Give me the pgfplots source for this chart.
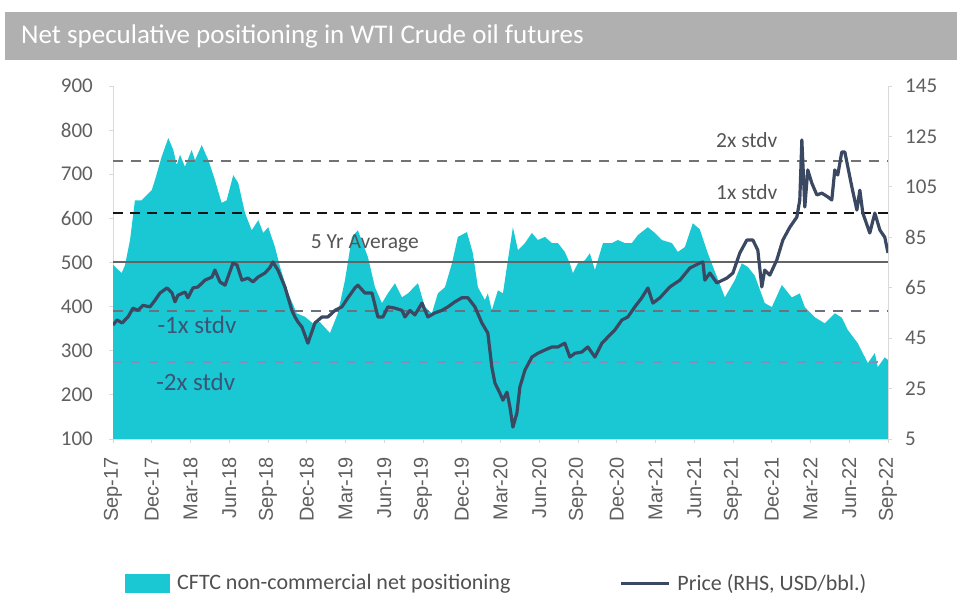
\documentclass[border=0pt]{standalone}
\usepackage{pgfplots}
\pgfplotsset{compat=1.18}
\usepackage{fontspec}
\setmainfont{Carlito}
\newfontfamily\arialf{Liberation Sans}
\definecolor{cyanfill}{RGB}{26,200,212}
\definecolor{pricecol}{RGB}{58,72,98}
\definecolor{titlegray}{RGB}{176,176,176}
\definecolor{ticktext}{RGB}{95,95,95}
\definecolor{legtext}{RGB}{80,80,80}
\definecolor{uplab}{RGB}{85,85,85}
\definecolor{lowlab}{RGB}{60,85,118}
\definecolor{sdtwo}{RGB}{115,115,115}
\definecolor{sdone}{RGB}{20,20,20}
\definecolor{avgcol}{RGB}{100,100,100}
\definecolor{sdmone}{RGB}{110,112,128}
\definecolor{sdmtwo}{RGB}{135,140,185}
\begin{document}
\begin{tikzpicture}
\path[use as bounding box] (0,0) rectangle (957pt,596pt);
\fill[titlegray] (5pt,536pt) rectangle (957pt,584pt);
\node[anchor=west, text=white, font=\fontsize{27}{27}\selectfont, inner sep=0pt] at (21pt,560pt) {Net speculative positioning in WTI Crude oil futures};
\begin{axis}[
  at={(113pt,157pt)}, anchor=south west,
  width=775pt, height=353pt, scale only axis,
  xmin=0, xmax=60, ymin=100, ymax=900,
  axis y line*=left, axis x line*=bottom,
  axis line style={draw=gray!30, line width=0.8pt},
  tick style={draw=gray!30, line width=0.8pt},
  tick align=outside, major tick length=4pt,
  ytick={100,200,...,900},
  xtick={0,3,...,60},
  xticklabels={Sep-17,Dec-17,Mar-18,Jun-18,Sep-18,Dec-18,Mar-19,Jun-19,Sep-19,Dec-19,Mar-20,Jun-20,Sep-20,Dec-20,Mar-21,Jun-21,Sep-21,Dec-21,Mar-22,Jun-22,Sep-22},
  /pgf/number format/assume math mode=true,
  yticklabel style={font=\fontsize{21}{21}\selectfont, text=ticktext, inner sep=0pt},
  yticklabel shift=16pt,
  xticklabel style={font=\arialf\fontsize{20}{20}\selectfont, text=ticktext, rotate=90, anchor=east, inner sep=0pt},
  xticklabel shift=14pt,
  legend style={draw=none, fill=none, inner sep=0pt, at={(axis description cs:0.0155,-0.408)}, anchor=west,
    font=\fontsize{22}{22}\selectfont, text=legtext, nodes={inner sep=0pt},
    /tikz/every odd column/.append style={column sep=7pt},
    /tikz/every even column/.append style={column sep=109pt}},
  legend columns=2, legend cell align=left,
  clip=true,
]
\addplot[fill=cyanfill, draw=none, legend image code/.code={\fill[cyanfill] (0pt,-9.5pt) rectangle (45pt,9.5pt);}] coordinates {
(0,495) (0.67,476) (0.93,494) (1.32,551) (1.70,641) (2.22,641) (3.0,664) (3.25,687) (3.77,740) (4.28,782) (4.67,755) (4.93,721) (5.19,744) (5.57,717) (6.09,755) (6.35,732) (6.87,766) (7.38,732) (7.89,687) (8.41,635) (8.80,641) (9.31,698) (9.70,680) (10.22,612) (10.74,573) (11.25,596) (11.63,567) (12.02,580) (12.54,535) (12.93,490) (13.57,430) (14.22,385) (14.86,377) (15.48,362) (16.02,365) (16.80,340) (17.41,385) (17.96,460) (18.50,558) (18.96,573) (19.74,512) (20.28,444) (20.82,408) (21.28,430) (21.83,453) (22.37,421) (22.83,430) (23.61,453) (24.15,399) (24.69,385) (25.15,430) (25.70,444) (26.24,498) (26.70,558) (27.40,569) (27.86,521) (28.25,444) (28.79,415) (29.02,430) (29.33,392) (29.80,437) (30.19,430) (30.57,505) (30.96,580) (31.35,528) (31.89,544) (32.43,567) (32.89,551) (33.44,558) (33.98,544) (34.44,544) (34.98,524) (35.37,498) (35.60,476) (35.99,498) (36.53,505) (36.92,521) (37.31,483) (37.93,544) (38.62,544) (39.09,551) (39.63,544) (40.17,544) (40.63,562) (41.41,580) (41.95,567) (42.49,551) (43.27,544) (43.73,524) (44.27,535) (44.89,589) (45.43,575) (46.05,521) (46.59,480) (47.37,421) (48.14,460) (48.68,498) (49.15,490) (49.69,470) (50.46,408) (51.01,399) (51.78,449) (52.55,421) (53.17,430) (53.56,399) (54.33,376) (55.11,362) (55.88,385) (56.42,375) (56.89,347) (57.66,317) (58.44,272) (58.98,295) (59.21,263) (59.75,285) (60,279)
} \closedcycle;
\addlegendentry{CFTC non-commercial net positioning}
\addlegendimage{legend image code/.code={\draw[pricecol, line width=3pt] (0pt,0pt) -- (48pt,0pt);}}
\addlegendentry{Price (RHS, USD/bbl.)}
\addplot[forget plot, sdtwo, line width=2.4pt, dash pattern=on 10pt off 8pt] coordinates {(0,730) (60,730)};
\addplot[forget plot, sdone, line width=2.8pt, dash pattern=on 10pt off 7pt] coordinates {(0,612) (60,612)};
\addplot[forget plot, avgcol, line width=2pt] coordinates {(0,501) (60,501)};
\addplot[forget plot, sdmone, line width=2.4pt, dash pattern=on 10pt off 8pt] coordinates {(0,390) (60,390)};
\addplot[forget plot, sdmtwo, line width=2.2pt, dash pattern=on 9pt off 9pt] coordinates {(0,274) (60,274)};
\node[text=uplab, font=\fontsize{21.5}{21.5}\selectfont] at (axis cs:49.07,777) {2x stdv};
\node[text=uplab, font=\fontsize{21.5}{21.5}\selectfont] at (axis cs:49.07,660) {1x stdv};
\node[text=uplab, font=\fontsize{21.5}{21.5}\selectfont] at (axis cs:19.5,544) {5 Yr Average};
\node[text=lowlab, font=\fontsize{25}{25}\selectfont] at (axis cs:6.5,358) {-1x stdv};
\node[text=lowlab, font=\fontsize{25}{25}\selectfont] at (axis cs:6.4,229) {-2x stdv};
\end{axis}
\begin{axis}[
  at={(113pt,157pt)}, anchor=south west,
  width=775pt, height=353pt, scale only axis,
  xmin=0, xmax=60, ymin=5, ymax=145,
  axis y line*=right, axis x line=none,
  axis line style={draw=gray!30, line width=0.8pt},
  tick style={draw=gray!30, line width=0.8pt},
  tick align=outside, major tick length=4pt,
  ytick={5,25,...,145},
  /pgf/number format/assume math mode=true,
  yticklabel style={font=\fontsize{21}{21}\selectfont, text=ticktext, inner sep=0pt},
  yticklabel shift=13pt,
]
\addplot[pricecol, line width=3.2pt, line join=round] coordinates {
(0,50.2) (0.31,52.2) (0.70,51) (1.16,53.4) (1.55,56.9) (1.93,56) (2.32,58) (2.86,57.4) (3.25,60) (3.64,62.9) (4.18,64.9) (4.57,62.9) (4.80,59.4) (5.03,62) (5.57,63.3) (5.80,61) (6.19,64.9) (6.58,65.3) (7.12,68) (7.66,69.2) (7.89,72) (8.28,67.3) (8.67,66) (8.90,69.2) (9.29,74.8) (9.60,74) (9.98,68) (10.45,68.8) (10.84,67.3) (11.22,69.2) (11.76,70.8) (12.15,73) (12.38,75.2) (12.77,72) (13.31,65.3) (13.85,56) (14.09,53.4) (14.32,51.4) (14.63,49.4) (15.09,43) (15.63,51) (16.18,53.4) (16.64,53.4) (17.18,56) (17.72,57.4) (18.19,61) (18.73,64.9) (18.96,66) (19.50,62.9) (20.05,62.9) (20.51,53.4) (20.90,53.4) (21.28,57.4) (21.83,56.9) (22.37,56) (22.60,53.4) (22.99,56) (23.37,54.2) (23.92,58.9) (24.38,53.4) (24.92,55) (25.46,56) (25.93,57.4) (26.47,59.4) (27.01,61) (27.48,61) (28.02,57.4) (28.56,51) (29.02,47) (29.33,33.5) (29.57,27.2) (29.95,23.2) (30.19,20.4) (30.50,23.6) (30.73,17.7) (30.96,9.7) (31.27,15.3) (31.50,25.6) (31.89,32.3) (32.43,37.5) (32.89,39) (33.44,40.3) (33.98,41.5) (34.44,41.5) (34.98,43) (35.37,37.5) (35.76,39) (36.30,39.5) (36.76,41.5) (37.31,37.5) (37.85,43) (38.31,45.4) (38.85,48.2) (39.40,52.2) (39.86,53.4) (40.40,57.4) (40.94,61) (41.41,64.9) (41.80,58.9) (42.34,61) (43.11,65.3) (43.89,68) (44.66,72.8) (45.43,74.8) (45.67,75.2) (45.82,68) (46.21,70.8) (46.75,66.9) (47.52,68.8) (47.99,70.8) (48.53,78.8) (49.07,83.9) (49.54,83.9) (49.92,79.9) (50.23,65.3) (50.46,72) (50.85,70) (51.39,76) (51.86,83.9) (52.40,89) (52.94,93) (53.17,99.8) (53.33,123.6) (53.56,97) (53.79,111.7) (54.10,106.5) (54.49,101.8) (54.88,102.5) (55.34,101) (55.65,99.8) (55.88,111.7) (56.11,109.7) (56.42,118.8) (56.66,118.8) (56.89,112.9) (57.20,105) (57.59,95.8) (57.82,103.7) (58.05,94.6) (58.59,86.7) (58.98,94.6) (59.37,87.9) (59.75,85) (60,78.8)
};
\end{axis}
\end{tikzpicture}
\end{document}
